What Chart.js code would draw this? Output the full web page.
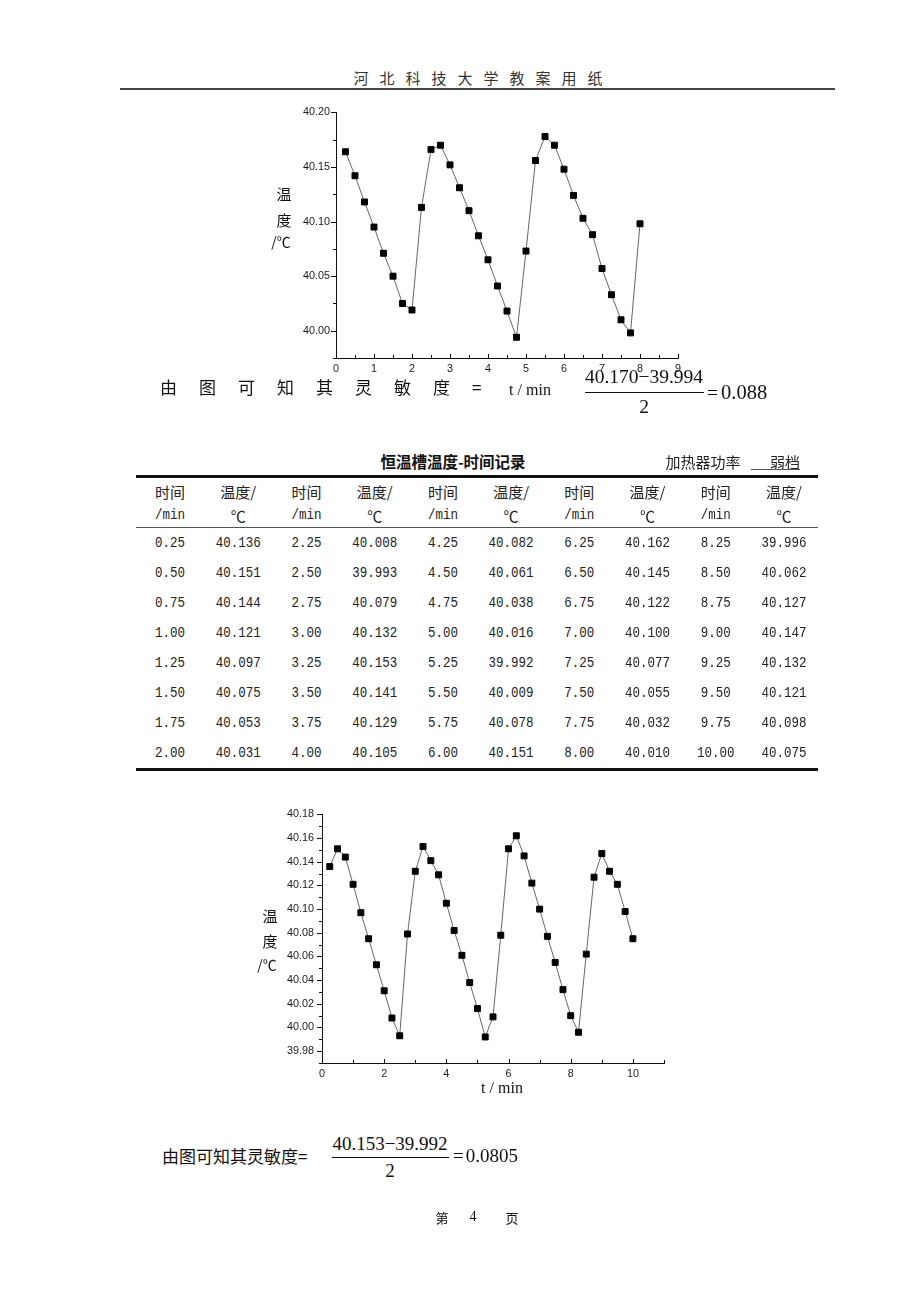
<!DOCTYPE html>
<html lang="zh">
<head>
<meta charset="utf-8">
<title>恒温槽温度-时间记录</title>
<script src="https://cdn.jsdelivr.net/npm/chart.js@4.4.1/dist/chart.umd.min.js"></script>
<style>
  body { margin: 0; background: #fff; }
  #page { position: relative; width: 920px; height: 1302px; overflow: hidden;
          font-family: "Noto Sans CJK SC", sans-serif; color: #111; }
  .abs { position: absolute; white-space: nowrap; }
  .c { transform: translate(-50%, -50%); }
  .l { transform: translateY(-50%); }
  .rule { position: absolute; background: #111; }
  .serif { font-family: "Liberation Serif", serif; }
  .mono { font-family: "Liberation Mono", monospace; font-size: 12.5px; transform: translate(-50%, -50%) scaleY(1.2); }
  canvas { position: absolute; }
</style>
</head>
<body>
<div id="page">
  <!-- page header -->
  <div class="abs c" style="left:478px;top:77px;font-size:15px;letter-spacing:11px;padding-left:11px;color:#333">河北科技大学教案用纸</div>
  <div class="rule" style="left:120px;top:88px;width:715px;height:2px;background:#444"></div>

  <!-- first plot -->
  <canvas id="topChart" width="420" height="290" style="left:270px;top:100px"></canvas>
  <div class="abs c" style="left:284px;top:193px;font-size:15px">温</div>
  <div class="abs c" style="left:284px;top:219px;font-size:15px">度</div>
  <div class="abs c" style="left:281px;top:241px;font-size:14px">/℃</div>
  <div class="abs c serif" style="left:530px;top:390px;font-size:16px">t / min</div>
  <div class="abs l" style="left:160px;top:386px;font-size:17px;letter-spacing:22px">由图可知其灵敏度=</div>
  <div class="abs c serif" style="left:644px;top:377px;font-size:19.5px">40.170&minus;39.994</div>
  <div class="rule" style="left:585px;top:392px;width:119px;height:1px"></div>
  <div class="abs c serif" style="left:644px;top:407px;font-size:19.5px">2</div>
  <div class="abs l serif" style="left:707px;top:392px;font-size:19.5px">=<span style="margin-left:3px;font-size:20.5px">0.088</span></div>

  <!-- table -->
  <div class="abs c" style="left:453px;top:461px;font-size:15.5px;font-weight:bold">恒温槽温度-时间记录</div>
  <div class="abs c" style="left:703px;top:461px;font-size:15px;color:#222">加热器功率</div>
  <div class="abs c" style="left:785px;top:461px;font-size:15px;color:#222">弱档</div>
  <div class="rule" style="left:751px;top:469px;width:49px;height:1px;background:#555"></div>
  <div class="rule" style="left:136px;top:475px;width:682px;height:3px"></div>
  <div class="rule" style="left:136px;top:527px;width:682px;height:1px;background:#555"></div>
  <div class="rule" style="left:136px;top:768px;width:682px;height:3px"></div>
  <div id="tableCells"></div>

  <!-- second plot -->
  <canvas id="bottomChart" width="420" height="295" style="left:260px;top:800px"></canvas>
  <div class="abs c" style="left:270px;top:915px;font-size:15px">温</div>
  <div class="abs c" style="left:270px;top:940px;font-size:15px">度</div>
  <div class="abs c" style="left:267px;top:964px;font-size:14px">/℃</div>
  <div class="abs c serif" style="left:502px;top:1088px;font-size:16px">t / min</div>
  <div class="abs l" style="left:162px;top:1155px;font-size:17px">由图可知其灵敏度=</div>
  <div class="abs c serif" style="left:390px;top:1144px;font-size:19px">40.153&minus;39.992</div>
  <div class="rule" style="left:332px;top:1157px;width:117px;height:1px"></div>
  <div class="abs c serif" style="left:390px;top:1171px;font-size:19px">2</div>
  <div class="abs l serif" style="left:453px;top:1156px;font-size:19px">=<span style="margin-left:2px">0.0805</span></div>

  <!-- page footer -->
  <div class="abs c" style="left:442px;top:1217px;font-size:13px">第</div>
  <div class="abs c serif" style="left:473px;top:1217px;font-size:14px">4</div>
  <div class="abs c" style="left:512px;top:1217px;font-size:13px">页</div>
</div>

<script>
// upper plot, values
var topTime = [0.25, 0.50, 0.75, 1.00, 1.25, 1.50, 1.75, 2.00,
               2.25, 2.50, 2.75, 3.00, 3.25, 3.50, 3.75, 4.00,
               4.25, 4.50, 4.75, 5.00, 5.25, 5.50, 5.75, 6.00,
               6.25, 6.50, 6.75, 7.00, 7.25, 7.50, 7.75, 8.00];
var topTemp = [40.164, 40.142, 40.118, 40.095, 40.071, 40.050, 40.025, 40.019,
               40.113, 40.166, 40.170, 40.152, 40.131, 40.110, 40.087, 40.065,
               40.041, 40.018, 39.994, 40.073, 40.156, 40.178, 40.170, 40.148,
               40.124, 40.103, 40.088, 40.057, 40.033, 40.010, 39.998, 40.098];
var topXTicks = [0, 1, 2, 3, 4, 5, 6, 7, 8, 9];
var topYTicks = [40.00, 40.05, 40.10, 40.15, 40.20];

// record table (also the lower plot)
var tableTime = [0.25, 0.50, 0.75, 1.00, 1.25, 1.50, 1.75, 2.00,
                 2.25, 2.50, 2.75, 3.00, 3.25, 3.50, 3.75, 4.00,
                 4.25, 4.50, 4.75, 5.00, 5.25, 5.50, 5.75, 6.00,
                 6.25, 6.50, 6.75, 7.00, 7.25, 7.50, 7.75, 8.00,
                 8.25, 8.50, 8.75, 9.00, 9.25, 9.50, 9.75, 10.00];
var tableTemp = [40.136, 40.151, 40.144, 40.121, 40.097, 40.075, 40.053, 40.031,
                 40.008, 39.993, 40.079, 40.132, 40.153, 40.141, 40.129, 40.105,
                 40.082, 40.061, 40.038, 40.016, 39.992, 40.009, 40.078, 40.151,
                 40.162, 40.145, 40.122, 40.100, 40.077, 40.055, 40.032, 40.010,
                 39.996, 40.062, 40.127, 40.147, 40.132, 40.121, 40.098, 40.075];
var bottomXTicks = [0, 2, 4, 6, 8, 10];
var bottomYTicks = [39.98, 40.00, 40.02, 40.04, 40.06, 40.08, 40.10, 40.12, 40.14, 40.16, 40.18];

// table cells
var cells = document.getElementById('tableCells');
function cell(text, x, y, cls) {
    var d = document.createElement('div');
    d.className = 'abs c ' + (cls || '');
    d.style.left = x + 'px';
    d.style.top = y + 'px';
    d.style.fontSize = cls ? '' : '15px';
    d.style.color = '#222';
    d.textContent = text;
    cells.appendChild(d);
}
var colW = 682 / 10;
for (var p = 0; p < 5; p++) {
    var xt = 136 + colW * (2 * p + 0.5);
    var xv = 136 + colW * (2 * p + 1.5);
    cell('时间', xt, 491);
    cell('/min', xt, 515, 'mono');
    cell('温度/', xv, 491);
    cell('℃', xv, 515);
    for (var r = 0; r < 8; r++) {
        var i = p * 8 + r;
        cell(tableTime[i].toFixed(2), xt, 543 + 30 * r, 'mono');
        cell(tableTemp[i].toFixed(3), xv, 543 + 30 * r, 'mono');
    }
}

// short tick marks: y ticks outward, x ticks pointing up into the plot
var tickMarks = {
    id: 'tickMarks',
    afterDraw: function (chart, args, opts) {
        var ctx = chart.ctx, a = chart.chartArea;
        var xs = chart.scales.x, ys = chart.scales.y;
        ctx.save();
        ctx.strokeStyle = '#111';
        ctx.lineWidth = 1;
        ctx.beginPath();
        var n = Math.round((xs.max - xs.min) / opts.xStep);
        for (var k = 0; k <= n; k++) {
            var v = xs.min + k * opts.xStep;
            var major = xs.ticks.some(function (t) { return Math.abs(t.value - v) < 1e-6; });
            var px = Math.round(xs.getPixelForValue(v)) + 0.5;
            ctx.moveTo(px, a.bottom);
            ctx.lineTo(px, a.bottom - (major ? 4 : 3));
        }
        n = Math.round((ys.max - ys.min) / opts.yStep);
        for (k = 0; k <= n; k++) {
            var w = ys.min + k * opts.yStep;
            var majorY = ys.ticks.some(function (t) { return Math.abs(t.value - w) < 1e-6; });
            var py = Math.round(ys.getPixelForValue(w)) + 0.5;
            ctx.moveTo(a.left, py);
            ctx.lineTo(a.left - (majorY ? 5 : 3), py);
        }
        ctx.stroke();
        ctx.restore();
    }
};

function plot(id, time, temp, xr, yr, xTicks, yTicks, xStep, yStep, yWidth, xHeight, padRight, yLabelPad) {
    var pts = time.map(function (t, i) { return {x: t, y: temp[i]}; });
    return new Chart(document.getElementById(id).getContext('2d'), {
        type: 'scatter',
        data: {
            datasets: [{
                data: pts,
                showLine: true,
                borderColor: '#666',
                borderWidth: 1,
                tension: 0,
                pointStyle: 'rect',
                pointRadius: 4.2,
                pointBorderWidth: 1,
                pointBackgroundColor: '#000',
                pointBorderColor: '#000'
            }]
        },
        options: {
            responsive: false,
            animation: false,
            devicePixelRatio: 1,
            layout: {padding: {top: 10, right: padRight, left: 0, bottom: 0}},
            plugins: {
                legend: {display: false},
                tooltip: {enabled: false},
                tickMarks: {xStep: xStep, yStep: yStep}
            },
            scales: {
                x: {
                    type: 'linear', min: xr[0], max: xr[1],
                    afterBuildTicks: function (s) { s.ticks = xTicks.map(function (v) { return {value: v}; }); },
                    afterFit: function (s) { s.height = xHeight; },
                    grid: {display: false, drawTicks: false},
                    border: {display: true, color: '#111', width: 1},
                    ticks: {
                        padding: 5, autoSkip: false, maxRotation: 0, color: '#1a1a1a',
                        font: {family: 'Liberation Sans', size: 10.8},
                        callback: function (v) { return String(v); }
                    }
                },
                y: {
                    type: 'linear', min: yr[0], max: yr[1],
                    afterBuildTicks: function (s) { s.ticks = yTicks.map(function (v) { return {value: v}; }); },
                    afterFit: function (s) { s.width = yWidth; },
                    grid: {display: false, drawTicks: false},
                    border: {display: true, color: '#111', width: 1},
                    ticks: {
                        padding: yLabelPad, autoSkip: false, color: '#1a1a1a',
                        font: {family: 'Liberation Sans', size: 10.8},
                        callback: function (v) { return v.toFixed(2); }
                    }
                }
            }
        },
        plugins: [tickMarks]
    });
}

var topChart = plot('topChart', topTime, topTemp, [0, 9], [39.975, 40.20],
                    topXTicks, topYTicks, 0.5, 0.025, 66, 32, 12, 6);
var bottomChart = plot('bottomChart', tableTime, tableTemp, [0, 11], [39.97, 40.18],
                       bottomXTicks, bottomYTicks, 1, 0.01, 62, 32, 16, 8);
</script>
</body>
</html>
